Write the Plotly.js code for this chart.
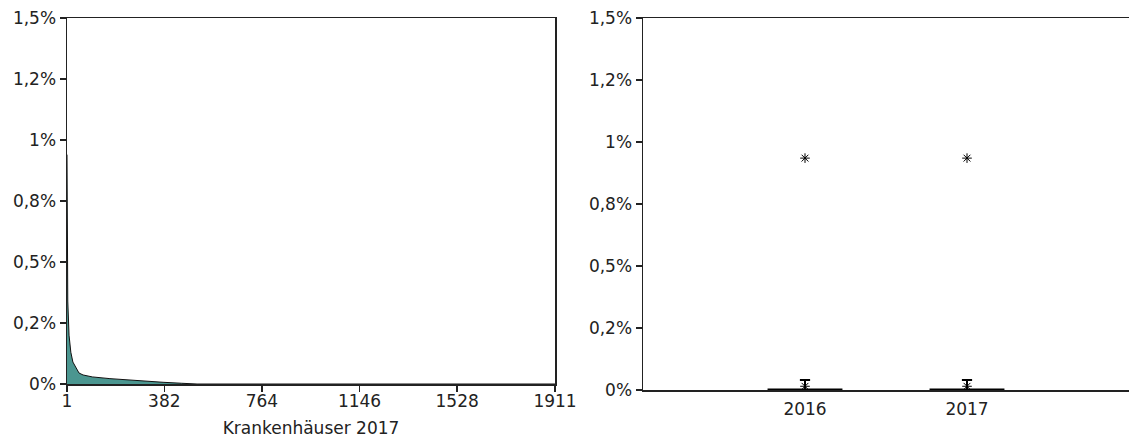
<!DOCTYPE html>
<html>
<head>
<meta charset="utf-8">
<script src="https://cdn.plot.ly/plotly-3.0.1.min.js"></script>
<style>
  html, body { margin: 0; padding: 0; background: #fff; }
  #chart { width: 1129px; height: 440px; }
</style>
</head>
<body>
<div id="chart"></div>
<script>
// Share per hospital (in %), hospitals ranked by share, 2017
const hospitalRank = [1, 2, 4, 9, 16, 24, 32, 48, 64, 100, 169, 287, 377, 450, 510, 1911];
const hospitalShare = [0.94, 0.47, 0.34, 0.2, 0.13, 0.09, 0.075, 0.045, 0.037, 0.029, 0.022, 0.012, 0.007, 0.003, 0, 0];

// Box plot summary per year (in %)
const years = ['2016', '2017'];
const yearPos = [0, 1];
const boxQ1 = [0, 0];
const boxMedian = [0, 0];
const boxQ3 = [0.002, 0.002];
const boxLower = [0, 0];
const boxUpper = [0.04, 0.04];
// Outliers per year
const outlierYearPos = [0, 0, 1, 1];
const outlierShare = [0.935, 0.015, 0.935, 0.015];

// Axis ticks
const rankTicks = [1, 382, 764, 1146, 1528, 1911];
const shareTicks = [0, 0.25, 0.5, 0.75, 1, 1.25, 1.5];
const shareTickText = ['0%', '0,2%', '0,5%', '0,8%', '1%', '1,2%', '1,5%'];

const W = 1129, H = 440;
const font = { family: 'DejaVu Sans, Verdana, sans-serif', size: 17, color: '#222' };

const traces = [
  {
    type: 'scatter', mode: 'lines',
    x: hospitalRank, y: hospitalShare,
    fill: 'tozeroy', fillcolor: '#4b9690',
    line: { color: '#111', width: 1 },
    xaxis: 'x', yaxis: 'y', hoverinfo: 'skip', showlegend: false
  },
  // same series, invisible, so the label axis x3 is laid out
  {
    type: 'scatter', mode: 'lines',
    x: hospitalRank, y: hospitalShare,
    line: { width: 0 }, opacity: 0,
    xaxis: 'x3', yaxis: 'y', hoverinfo: 'skip', showlegend: false
  },
  {
    type: 'box',
    x: yearPos, q1: boxQ1, median: boxMedian, q3: boxQ3,
    lowerfence: boxLower, upperfence: boxUpper,
    width: 0.45, whiskerwidth: 0.14,
    fillcolor: '#fff', line: { color: '#000', width: 2 },
    xaxis: 'x2', yaxis: 'y2', hoverinfo: 'skip', showlegend: false
  },
  {
    type: 'scatter', mode: 'markers',
    x: outlierYearPos, y: outlierShare,
    marker: { symbol: 'asterisk-open', size: 8, color: '#000', line: { color: '#000', width: 1 } },
    xaxis: 'x2', yaxis: 'y2', hoverinfo: 'skip', showlegend: false, cliponaxis: false
  }
];

const axisLine = { showline: true, linecolor: '#222', linewidth: 1.5, showgrid: false, zeroline: false,
                   ticks: 'outside', ticklen: 6, tickcolor: '#222', tickwidth: 1.5, tickfont: font };

const leftDomain = [67 / W, 555 / W];

const layout = {
  width: W, height: H,
  margin: { l: 0, r: 0, t: 0, b: 0 },
  paper_bgcolor: '#fff', plot_bgcolor: '#fff',
  font: font,
  // rank axis: line and tick marks
  xaxis: Object.assign({}, axisLine, {
    domain: leftDomain, range: [1, 1911], mirror: true,
    tickvals: rankTicks, showticklabels: false
  }),
  // rank axis: labels and title, set close to the line
  xaxis3: {
    overlaying: 'x', anchor: 'y', side: 'bottom',
    domain: leftDomain, range: [1, 1911],
    showline: false, showgrid: false, zeroline: false, ticks: '',
    tickvals: rankTicks, ticktext: rankTicks.map(String), tickfont: font,
    ticklabelstandoff: 5,
    title: { text: 'Krankenhäuser 2017', font: font, standoff: 12 }
  },
  yaxis: Object.assign({}, axisLine, {
    domain: [(H - 384) / H, (H - 18) / H], range: [0, 1.5], mirror: true,
    tickvals: shareTicks, ticktext: shareTickText
  }),
  xaxis2: Object.assign({}, axisLine, {
    domain: [643 / W, 1], range: [-1, 2], mirror: true, anchor: 'y2',
    ticks: '', tickvals: yearPos, ticktext: years, ticklabelstandoff: 3
  }),
  yaxis2: Object.assign({}, axisLine, {
    domain: [(H - 390) / H, (H - 18) / H], range: [0, 1.5], anchor: 'x2',
    tickvals: shareTicks, ticktext: shareTickText
  })
};

Plotly.newPlot('chart', traces, layout, { staticPlot: true, displayModeBar: false });
</script>
</body>
</html>
